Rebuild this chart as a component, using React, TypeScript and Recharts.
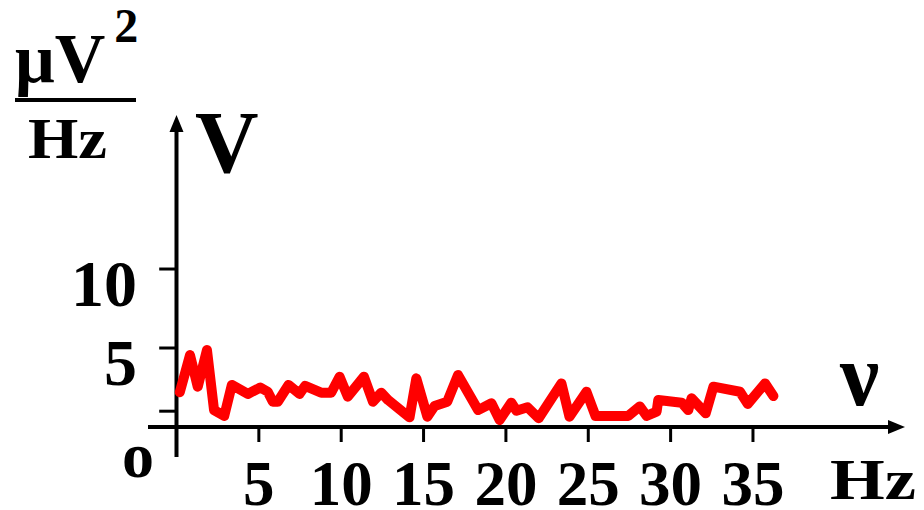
import { LineChart, Line, XAxis, YAxis, ReferenceLine } from "recharts";

// spectrum: frequency (Hz) and power (µV²/Hz)
const freq = [
  0.2, 0.82, 1.29, 1.85, 2.28, 2.9, 3.36, 4.33, 5.09, 5.54, 5.85, 6.15, 6.8, 7.47, 7.81,
  8.78, 9.39, 9.9, 10.4, 11.38, 11.93, 12.43, 12.84, 14.15, 14.56, 15.23, 15.67, 16.44,
  17.09, 18.31, 19.12, 19.62, 20.33, 20.64, 21.31, 21.99, 23.37, 23.86, 24.89, 25.44,
  27.43, 28.13, 28.54, 29.15, 29.25, 30.67, 31.07, 31.27, 32.13, 32.6, 34.21, 34.68,
  35.73, 36.24,
];
const power = [
  2.2, 4.55, 2.55, 4.87, 1.07, 0.7, 2.66, 2.09, 2.5, 2.23, 1.6, 1.6, 2.66, 2.09, 2.6,
  2.17, 2.17, 3.18, 1.92, 3.18, 1.6, 2.17, 1.71, 0.61, 3.08, 0.65, 1.33, 1.6,
  3.29, 1.07, 1.5, 0.44, 1.54, 1.03, 1.25, 0.55, 2.76, 0.65, 2.23, 0.7,
  0.7, 1.3, 0.7, 0.97, 1.71, 1.54, 1.07, 1.82, 0.87, 2.55, 2.23, 1.46,
  2.76, 1.96,
];
const xTicks = [5, 10, 15, 20, 25, 30, 35];
const yTicks = [1, 5, 10];
const yLabels = [5, 10];

const data = freq.map((f, i) => ({ f, p: power[i] }));

const serif = "'Liberation Serif', 'Times New Roman', serif";
const X_MIN = -1.73;
const X_MAX = 44.23;
const Y_MIN = -1.9;
const Y_MAX = 19.75;

const arrowX = (p: any) => (
  <g>
    <line x1={p.x1} y1={p.y1} x2={p.x2 - 12} y2={p.y2} stroke="#000" strokeWidth={4} />
    <polygon points={`${p.x2},${p.y2} ${p.x2 - 17},${p.y2 - 7} ${p.x2 - 17},${p.y2 + 7}`} fill="#000" />
  </g>
);

const arrowY = (p: any) => {
  const top = Math.min(p.y1, p.y2);
  const bot = Math.max(p.y1, p.y2);
  return (
    <g>
      <line x1={p.x1} y1={bot} x2={p.x1} y2={top + 12} stroke="#000" strokeWidth={4} />
      <polygon points={`${p.x1},${top} ${p.x1 - 7},${top + 17} ${p.x1 + 7},${top + 17}`} fill="#000" />
    </g>
  );
};

const XTick = ({ x, payload }: any) => (
  <text x={x} y={505} textAnchor="middle" fontFamily={serif} fontWeight="bold" fontSize={63} fill="#000">
    {payload.value}
  </text>
);

const YTick = ({ y, payload }: any) => (
  <text x={137} y={y + 37} textAnchor="end" fontFamily={serif} fontWeight="bold" fontSize={66} fill="#000">
    {payload.value}
  </text>
);

export default function App() {
  return (
    <div style={{ position: "absolute", left: 0, top: 0, width: 924, height: 510, background: "#fff" }}>
      <LineChart width={924} height={510} data={data} margin={{ top: 115, right: 19, bottom: 52, left: 147 }}>
        <XAxis
          dataKey="f"
          type="number"
          domain={[X_MIN, X_MAX]}
          ticks={xTicks}
          interval={0}
          height={1}
          axisLine={false}
          tickLine={false}
          tick={<XTick />}
          allowDataOverflow
        />
        <YAxis
          type="number"
          domain={[Y_MIN, Y_MAX]}
          ticks={yLabels}
          interval={0}
          width={1}
          axisLine={false}
          tickLine={false}
          tick={<YTick />}
          allowDataOverflow
        />
        {xTicks.map((t) => (
          <ReferenceLine key={"xt" + t} segment={[{ x: t, y: 0 }, { x: t, y: -0.95 }]} stroke="#000" strokeWidth={3} />
        ))}
        {yTicks.map((t) => (
          <ReferenceLine key={"yt" + t} segment={[{ x: -1.05, y: t }, { x: 0, y: t }]} stroke="#000" strokeWidth={3} />
        ))}
        <ReferenceLine segment={[{ x: X_MIN, y: 0 }, { x: X_MAX, y: 0 }]} shape={arrowX} />
        <ReferenceLine segment={[{ x: 0, y: Y_MIN }, { x: 0, y: Y_MAX }]} shape={arrowY} />
        <Line
          type="linear"
          dataKey="p"
          stroke="#ff0000"
          strokeWidth={10}
          strokeLinejoin="round"
          strokeLinecap="round"
          dot={false}
          isAnimationActive={false}
        />
      </LineChart>
      <svg width={924} height={510} style={{ position: "absolute", left: 0, top: 0, pointerEvents: "none" }}>
        <g fontFamily={serif} fontWeight="bold" fill="#000">
          <text x={15} y={82} fontSize={70}>
            μV<tspan dx={9} dy={-40} fontSize={48}>2</tspan>
          </text>
          <rect x={15} y={98} width={121} height={4} />
          <text x={28} y={158} fontSize={58} textLength={79} lengthAdjust="spacingAndGlyphs">Hz</text>
          <text x={195} y={172} fontSize={88}>V</text>
          <text x={840} y={405} fontSize={88}>ν</text>
          <text x={830} y={499} fontSize={56} textLength={86} lengthAdjust="spacingAndGlyphs">Hz</text>
          <text x={122} y={477} fontSize={64}>o</text>
        </g>
      </svg>
    </div>
  );
}
